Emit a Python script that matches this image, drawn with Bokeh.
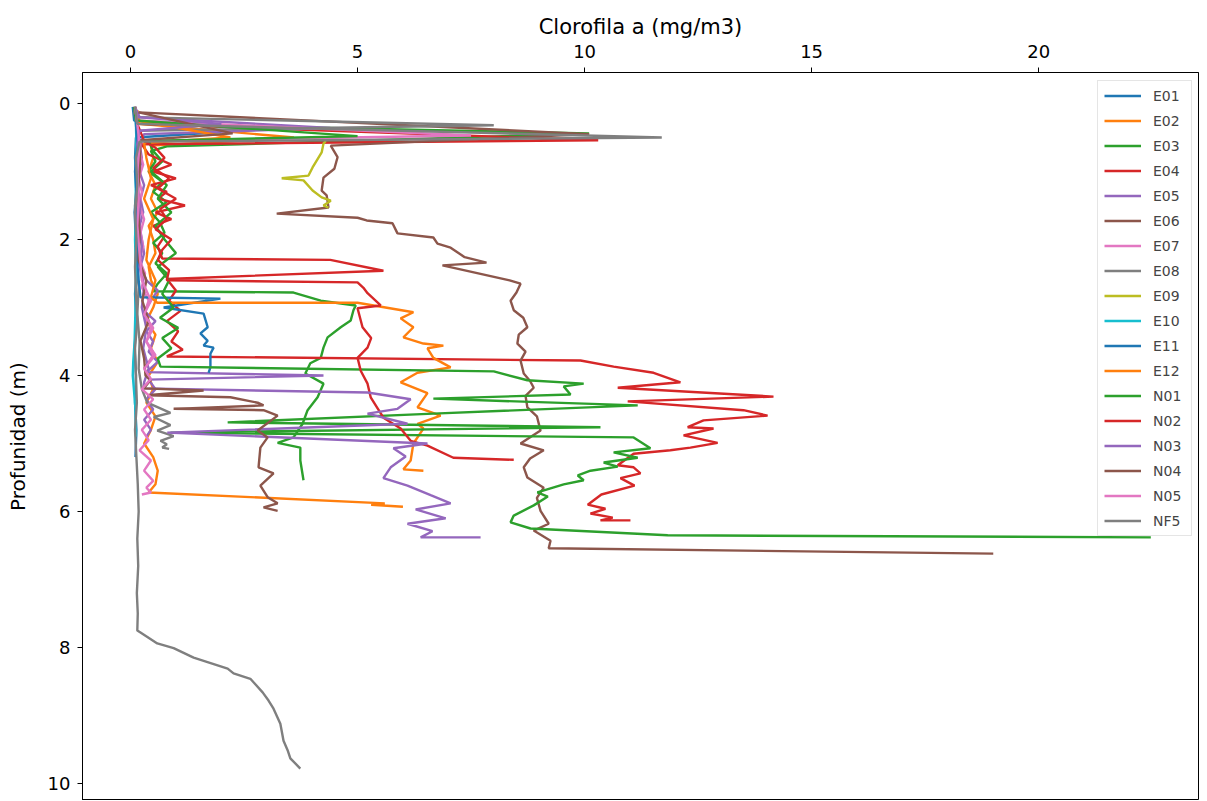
from bokeh.plotting import figure
from bokeh.models import Range1d, FixedTicker, ColumnDataSource
from bokeh.embed import file_html
from bokeh.resources import INLINE

# ---- data: (chlorophyll a mg/m3, depth m) per station ----
E01_d = [0.05, 0.25, 0.42, 0.50, 0.80, 1.20, 1.60, 2.00, 2.40, 2.80, 3.20, 3.60, 4.00, 4.40, 4.80, 5.20]
E01_c = [0.05, 0.08, 2.00, 0.12, 0.10, 0.14, 0.09, 0.12, 0.15, 0.10, 0.13, 0.09, 0.12, 0.10, 0.13, 0.11]

E02_d = [0.10, 0.30, 0.50, 0.62, 0.80, 1.00, 1.20, 1.40, 1.60, 1.80, 2.00, 2.20, 2.40, 2.60, 2.80, 3.00, 3.20,
         3.40, 3.60, 3.80, 4.00, 4.20, 4.40, 4.60, 4.80, 5.00, 5.20, 5.40, 5.60, 5.72, 5.88, 5.90, 5.93]
E02_c = [0.15, 0.20, 3.60, 0.45, 0.50, 0.40, 0.55, 0.45, 0.60, 0.40, 0.50, 0.55, 0.40, 0.45, 0.60, 0.50, 0.35,
         0.55, 0.45, 0.60, 0.40, 0.50, 0.35, 0.55, 0.45, 0.30, 0.50, 0.60, 0.55, 0.40, 5.60, 5.30, 6.00]

E03_d = [0.08, 0.30, 0.44, 0.60, 0.63, 0.70, 0.85, 1.00, 1.15, 1.30, 1.45, 1.60, 1.75, 1.90, 2.05, 2.20, 2.35,
         2.50, 2.65, 2.76, 2.78, 2.90, 2.97, 3.04, 3.19, 3.29, 3.44, 3.59, 3.74, 3.82, 3.97, 4.12, 4.32, 4.51,
         4.71, 4.91, 4.99, 5.06, 5.25, 5.54]
E03_c = [0.10, 0.15, 10.10, 2.40, 0.80, 0.45, 0.55, 0.40, 0.70, 0.50, 0.80, 0.45, 0.65, 0.75, 0.50, 0.70, 0.55,
         0.80, 0.60, 0.50, 3.59, 4.19, 4.96, 4.91, 4.85, 4.63, 4.34, 4.25, 4.19, 3.96, 3.85, 4.25, 4.12, 3.90,
         3.79, 3.59, 3.24, 3.74, 3.74, 3.81]

E04_d = [0.08, 0.30, 0.54, 0.60, 0.75, 0.90, 1.00, 1.10, 1.20, 1.30, 1.40, 1.50, 1.60, 1.70, 1.80, 1.95, 2.10,
         2.28, 2.30, 2.46, 2.58, 2.75, 2.90, 3.05, 3.20, 3.35, 3.50, 3.62, 3.72, 3.78, 3.87, 3.96, 4.10, 4.18,
         4.31, 4.38, 4.51, 4.59, 4.66, 4.76, 4.78, 4.88, 4.99, 5.06, 5.10, 5.15, 5.32, 5.35, 5.44, 5.51, 5.62,
         5.75, 5.90, 5.96, 6.03, 6.09, 6.13, 6.13]
E04_c = [0.10, 0.15, 10.30, 0.25, 0.40, 0.90, 0.50, 1.00, 0.45, 0.80, 0.60, 1.20, 0.55, 0.90, 0.50, 0.75, 0.60,
         0.70, 4.40, 5.57, 0.80, 1.00, 0.85, 1.10, 0.80, 1.05, 0.90, 1.15, 0.80, 9.91, 10.64, 11.52, 12.11, 10.73,
         14.16, 10.95, 13.50, 14.03, 12.62, 12.27, 12.84, 12.18, 12.93, 12.33, 11.89, 11.08, 10.73, 11.08, 11.23,
         10.79, 11.10, 10.37, 10.07, 10.46, 10.13, 10.62, 10.35, 11.01]

E05_d = [0.05, 0.20, 0.36, 0.45, 0.60, 0.80, 1.00, 1.20, 1.40, 1.60, 1.80, 2.00, 2.20, 2.40, 2.60, 2.75, 2.90,
         3.05, 3.20, 3.35, 3.50, 3.65, 3.80, 3.95, 4.00, 4.06, 4.20, 4.35, 4.50, 4.65, 4.80, 4.90]
E05_c = [0.10, 0.20, 4.40, 0.30, 0.20, 0.25, 0.20, 0.30, 0.22, 0.28, 0.20, 0.25, 0.30, 0.22, 0.35, 0.60, 0.45,
         0.30, 0.55, 0.35, 0.50, 0.40, 0.60, 0.35, 4.25, 0.40, 0.55, 0.35, 0.50, 0.30, 0.45, 0.35]

E06_d = [0.13, 0.45, 0.62, 0.79, 0.96, 1.09, 1.28, 1.35, 1.53, 1.62, 1.68, 1.72, 1.76, 1.91, 1.97, 2.06, 2.12,
         2.26, 2.34, 2.38, 2.60, 2.65, 2.78, 2.90, 3.04, 3.15, 3.29, 3.40, 3.53, 3.65, 3.78, 3.97, 4.08, 4.18,
         4.30, 4.47, 4.60, 4.81, 5.00, 5.10, 5.22, 5.35, 5.50, 5.65, 5.80, 5.99, 6.18, 6.28, 6.43, 6.54, 6.62]
E06_c = [0.18, 10.10, 4.41, 4.56, 4.49, 4.25, 4.21, 4.32, 4.36, 3.22, 5.00, 5.20, 5.77, 5.88, 6.67, 6.76, 7.05,
         7.36, 7.84, 6.87, 8.35, 8.59, 8.50, 8.37, 8.44, 8.65, 8.74, 8.55, 8.52, 8.70, 8.59, 8.66, 8.80, 8.88,
         8.70, 8.74, 8.95, 9.03, 8.59, 9.10, 8.80, 8.66, 8.74, 9.10, 8.95, 9.03, 9.21, 8.88, 9.25, 9.21, 19.00]

E07_d = [0.05, 0.25, 0.47, 0.55, 0.70, 0.90, 1.10, 1.30, 1.50, 1.70, 1.90, 2.10, 2.30, 2.50, 2.70, 2.90, 3.10,
         3.30, 3.50, 3.70, 3.90]
E07_c = [0.08, 0.12, 7.50, 0.25, 0.20, 0.28, 0.18, 0.25, 0.20, 0.30, 0.22, 0.28, 0.20, 0.32, 0.25, 0.40, 0.30,
         0.45, 0.35, 0.50, 0.30]

E08_d = [0.05, 0.20, 0.32, 0.40, 0.70, 1.10, 1.50, 1.90, 2.30, 2.70, 3.10, 3.50, 3.90, 4.20, 4.40, 4.55, 4.61,
         4.73, 4.81, 4.89, 4.96, 5.01, 5.06, 5.08]
E08_c = [0.08, 0.10, 8.00, 0.15, 0.12, 0.15, 0.10, 0.14, 0.12, 0.18, 0.15, 0.20, 0.18, 0.25, 0.37, 0.88, 0.51,
         0.88, 0.59, 0.95, 0.66, 0.80, 0.70, 0.85]

E09_d = [0.55, 0.59, 0.72, 0.94, 1.06, 1.10, 1.13, 1.28, 1.38, 1.43, 1.50, 1.53]
E09_c = [4.30, 4.25, 4.21, 4.01, 3.92, 3.33, 3.81, 4.01, 4.21, 4.41, 4.25, 4.36]

E10_d = [0.05, 0.30, 0.60, 1.00, 1.50, 2.00, 2.50, 3.00, 3.50, 3.80, 4.00, 4.50, 4.90]
E10_c = [0.10, 0.12, 0.13, 0.11, 0.12, 0.10, 0.12, 0.11, 0.09, 0.06, 0.05, 0.11, 0.12]

E11_d = [0.05, 0.30, 0.60, 1.00, 1.40, 1.80, 2.20, 2.60, 2.85, 2.87, 3.00, 3.09, 3.29, 3.38, 3.49, 3.56, 3.59,
         3.68, 3.88, 3.96]
E11_c = [0.10, 0.12, 0.15, 0.10, 0.14, 0.12, 0.15, 0.18, 0.22, 1.98, 0.73, 1.61, 1.70, 1.54, 1.70, 1.61, 1.83,
         1.76, 1.76, 1.72]

E12_d = [0.05, 0.25, 0.50, 0.58, 0.80, 1.10, 1.40, 1.70, 2.00, 2.30, 2.60, 2.85, 2.93, 2.93, 3.07, 3.16, 3.29,
         3.44, 3.53, 3.56, 3.60, 3.74, 3.88, 3.96, 4.10, 4.26, 4.47, 4.59, 4.71, 4.78, 5.00, 5.25, 5.38, 5.40]
E12_c = [0.10, 0.15, 2.20, 0.30, 0.35, 0.45, 0.30, 0.50, 0.40, 0.35, 0.55, 0.45, 0.59, 5.00, 6.23, 5.95, 6.23,
         6.01, 6.45, 6.89, 6.54, 6.67, 7.05, 6.32, 5.95, 6.54, 6.32, 6.83, 6.32, 6.45, 6.23, 6.17, 6.01, 6.45]

N01_d = [0.05, 0.25, 0.48, 0.55, 0.70, 0.85, 1.00, 1.20, 1.40, 1.60, 1.80, 2.00, 2.20, 2.40, 2.60, 2.80, 3.00,
         3.15, 3.30, 3.45, 3.60, 3.75, 3.87, 3.94, 4.07, 4.12, 4.16, 4.28, 4.34, 4.44, 4.56, 4.69, 4.76, 4.84,
         4.91, 5.07, 5.13, 5.21, 5.28, 5.34, 5.40, 5.47, 5.54, 5.60, 5.66, 5.72, 5.78, 5.91, 6.06, 6.16, 6.25,
         6.35, 6.38]
N01_c = [0.08, 0.12, 5.00, 0.40, 0.50, 0.70, 0.45, 0.80, 0.60, 0.90, 0.55, 0.75, 1.00, 0.60, 0.85, 0.70, 0.95,
         0.65, 1.05, 0.70, 0.90, 0.60, 0.66, 8.00, 8.74, 9.98, 9.54, 9.69, 6.67, 11.17, 6.67, 2.14, 10.35, 0.88,
         11.08, 11.45, 10.64, 11.17, 10.42, 10.73, 10.13, 9.85, 9.98, 9.54, 9.25, 8.96, 9.19, 8.88, 8.44, 8.37,
         8.81, 11.83, 22.47]

N02_d = [0.05, 0.30, 0.55, 0.65, 0.80, 0.95, 1.10, 1.25, 1.40, 1.55, 1.70, 1.85, 2.00, 2.15, 2.30, 2.45, 2.60,
         2.63, 2.71, 2.79, 2.97, 3.01, 3.29, 3.45, 3.59, 3.74, 3.93, 4.12, 4.32, 4.62, 4.78, 4.96, 5.03, 5.21, 5.24]
N02_c = [0.10, 0.15, 0.30, 0.55, 0.75, 0.50, 0.85, 0.60, 1.00, 0.65, 0.80, 0.55, 0.90, 0.70, 0.60, 0.85, 0.80,
         5.00, 5.13, 5.22, 5.51, 5.00, 5.11, 5.30, 5.22, 5.00, 5.07, 5.22, 5.29, 5.57, 5.95, 6.17, 6.54, 7.11, 8.44]

N03_d = [0.05, 0.20, 0.30, 0.40, 0.60, 0.90, 1.20, 1.50, 1.80, 2.10, 2.40, 2.70, 3.00, 3.30, 3.60, 3.90, 4.10,
         4.19, 4.25, 4.35, 4.49, 4.56, 4.71, 4.84, 5.00, 5.07, 5.19, 5.35, 5.51, 5.62, 5.76, 5.88, 5.97, 6.10,
         6.18, 6.29, 6.38, 6.38]
N03_c = [0.10, 0.15, 2.00, 0.20, 0.15, 0.20, 0.15, 0.22, 0.18, 0.25, 0.20, 0.30, 0.25, 0.35, 0.28, 0.40, 0.30,
         0.29, 5.22, 6.17, 5.88, 5.22, 6.10, 0.81, 6.54, 5.79, 6.06, 5.73, 5.57, 6.10, 6.61, 7.05, 6.28, 6.94,
         6.10, 6.65, 6.39, 7.71]

N04_d = [0.13, 0.44, 0.54, 1.00, 1.43, 1.90, 2.31, 2.60, 2.90, 3.20, 3.49, 3.75, 4.00, 4.07, 4.19, 4.22, 4.29,
         4.32, 4.40, 4.44, 4.49, 4.51, 4.59, 4.81, 4.91, 5.06, 5.35, 5.44, 5.62, 5.79, 5.88, 5.94, 5.99]
N04_c = [0.18, 2.25, 0.22, 0.20, 0.15, 0.20, 0.18, 0.35, 0.26, 0.40, 0.22, 0.30, 0.33, 0.44, 0.29, 1.61, 0.37,
         2.20, 2.80, 2.93, 0.95, 2.93, 3.24, 2.80, 3.02, 2.86, 2.82, 3.15, 2.86, 3.02, 3.24, 2.93, 3.24]

N05_d = [0.05, 0.30, 0.60, 1.00, 1.40, 1.80, 2.20, 2.60, 2.90, 3.10, 3.30, 3.50, 3.70, 3.90, 4.05, 4.20, 4.35,
         4.50, 4.65, 4.80, 4.95, 5.10, 5.25, 5.40, 5.55, 5.65, 5.72, 5.75]
N05_c = [0.10, 0.15, 0.20, 0.15, 0.18, 0.15, 0.20, 0.25, 0.45, 0.30, 0.50, 0.35, 0.55, 0.30, 0.45, 0.25, 0.50,
         0.30, 0.45, 0.25, 0.40, 0.20, 0.45, 0.30, 0.50, 0.35, 0.45, 0.25]

NF5_d = [0.05, 0.30, 0.50, 0.56, 0.80, 1.20, 1.60, 2.00, 2.40, 2.80, 3.20, 3.60, 4.00, 4.40, 4.80, 5.20, 5.60,
         6.00, 6.40, 6.80, 7.20, 7.50, 7.75, 7.78, 7.94, 8.01, 8.15, 8.31, 8.38, 8.46, 8.66, 8.78, 8.90, 9.12,
         9.37, 9.51, 9.63, 9.78]
NF5_c = [0.10, 0.15, 11.70, 0.20, 0.12, 0.15, 0.10, 0.13, 0.10, 0.12, 0.15, 0.10, 0.12, 0.14, 0.10, 0.13, 0.16,
         0.18, 0.15, 0.17, 0.14, 0.16, 0.15, 0.22, 0.59, 0.95, 1.39, 2.14, 2.27, 2.64, 2.91, 3.04, 3.15, 3.30,
         3.37, 3.46, 3.52, 3.74]

stations = ["E01", "E02", "E03", "E04", "E05", "E06", "E07", "E08", "E09", "E10", "E11", "E12",
            "N01", "N02", "N03", "N04", "N05", "NF5"]
depths = [E01_d, E02_d, E03_d, E04_d, E05_d, E06_d, E07_d, E08_d, E09_d, E10_d, E11_d, E12_d,
          N01_d, N02_d, N03_d, N04_d, N05_d, NF5_d]
chls = [E01_c, E02_c, E03_c, E04_c, E05_c, E06_c, E07_c, E08_c, E09_c, E10_c, E11_c, E12_c,
        N01_c, N02_c, N03_c, N04_c, N05_c, NF5_c]
palette = ["#1f77b4", "#ff7f0e", "#2ca02c", "#d62728", "#9467bd", "#8c564b", "#e377c2", "#7f7f7f",
           "#bcbd22", "#17becf"]

FONT = "DejaVu Sans"

p = figure(width=1200, height=800,
           x_range=Range1d(-1.057, 23.52), y_range=Range1d(10.25, -0.456),
           x_axis_location="above", output_backend="svg", toolbar_location=None,
           min_border_left=82, min_border_top=72, min_border_right=2, min_border_bottom=0,
           background_fill_color="white", border_fill_color="white")
p.grid.visible = False
p.outline_line_color = "black"
p.outline_line_width = 1

for i, (name, d, c) in enumerate(zip(stations, depths, chls)):
    src = ColumnDataSource(data=dict(chl=c, depth=d))
    p.line("chl", "depth", source=src, color=palette[i % 10], line_width=2.4, legend_label=name)

p.xaxis.ticker = FixedTicker(ticks=[0, 5, 10, 15, 20])
p.yaxis.ticker = FixedTicker(ticks=[0, 2, 4, 6, 8, 10])
p.xaxis.axis_label = "Clorofila a (mg/m3)"
p.yaxis.axis_label = "Profunidad (m)"
for ax in (p.xaxis, p.yaxis):
    ax.axis_label_text_font = FONT
    ax.axis_label_text_font_style = "normal"
    ax.axis_label_text_color = "black"
    ax.major_label_text_font = FONT
    ax.major_label_text_font_size = "18px"
    ax.major_label_text_color = "black"
    ax.axis_line_color = "black"
    ax.major_tick_line_color = "black"
    ax.major_tick_out = 5
    ax.major_tick_in = 0
    ax.minor_tick_line_color = None
p.xaxis.axis_label_text_font_size = "21px"
p.yaxis.axis_label_text_font_size = "20px"
p.xaxis.major_label_standoff = 10
p.xaxis.axis_label_standoff = 3
p.yaxis.major_label_standoff = 7
p.yaxis.axis_label_standoff = 15

lg = p.legend[0]
lg.location = (1015, 264)
lg.label_text_font = FONT
lg.label_text_font_size = "14px"
lg.glyph_width = 37
lg.glyph_height = 17
lg.label_height = 17
lg.label_width = 32
lg.label_standoff = 12
lg.spacing = 8
lg.padding = 6
lg.margin = 0
lg.border_line_color = "#cccccc"
lg.border_line_width = 1
lg.background_fill_color = "white"
lg.background_fill_alpha = 0.85

open("out.html", "w").write(file_html(p, INLINE))
